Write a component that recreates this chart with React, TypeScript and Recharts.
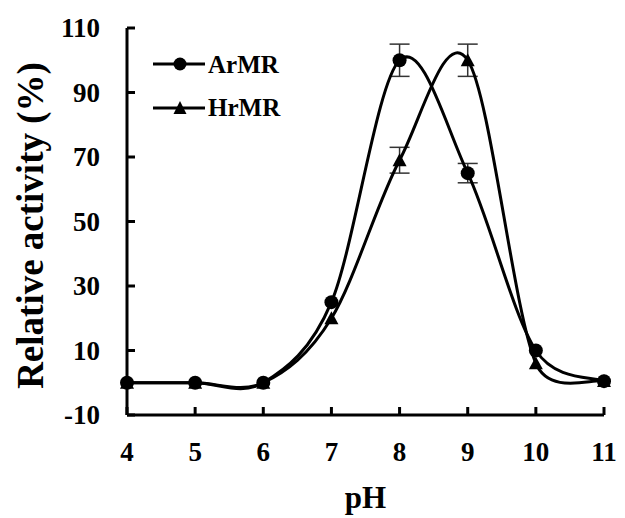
import React from "react";
import { LineChart, Line, XAxis, YAxis, ErrorBar, Legend } from "recharts";

const phValues = [4, 5, 6, 7, 8, 9, 10, 11];
const armrValues = [0, 0, 0, 25, 100, 65, 10, 0.5];
const armrErrors = [0, 0, 0, 0, 5, 3, 0, 0];
const hrmrValues = [0, 0, 0, 20, 69, 100, 6, 0.5];
const hrmrErrors = [0, 0, 0, 0, 4, 5, 0, 0];
const xTicks = [4, 5, 6, 7, 8, 9, 10, 11];
const yTicks = [-10, 10, 30, 50, 70, 90, 110];

const data = phValues.map((ph, i) => ({
  ph,
  armr: armrValues[i],
  armrErr: armrErrors[i],
  hrmr: hrmrValues[i],
  hrmrErr: hrmrErrors[i],
}));

const FONT = "'Liberation Serif', 'Times New Roman', serif";

// Smoothed line similar to Excel (Catmull-Rom with limited tangent length)
function smoothCurve(context: any) {
  let pts: number[][] = [];
  const limit = (dx: number, dy: number, maxLen: number) => {
    const len = Math.hypot(dx, dy);
    if (len > maxLen && len > 0) {
      const k = maxLen / len;
      return [dx * k, dy * k];
    }
    return [dx, dy];
  };
  return {
    areaStart() {},
    areaEnd() {},
    lineStart() {
      pts = [];
    },
    point(x: number, y: number) {
      pts.push([+x, +y]);
    },
    lineEnd() {
      if (!pts.length) return;
      context.moveTo(pts[0][0], pts[0][1]);
      for (let i = 0; i < pts.length - 1; i++) {
        const p0 = pts[i - 1] || pts[i];
        const p1 = pts[i];
        const p2 = pts[i + 1];
        const p3 = pts[i + 2] || p2;
        const seg = Math.hypot(p2[0] - p1[0], p2[1] - p1[1]) * 0.5;
        const d1 = limit((p2[0] - p0[0]) / 6, (p2[1] - p0[1]) / 6, seg);
        const d2 = limit((p3[0] - p1[0]) / 6, (p3[1] - p1[1]) / 6, seg);
        context.bezierCurveTo(p1[0] + d1[0], p1[1] + d1[1], p2[0] - d2[0], p2[1] - d2[1], p2[0], p2[1]);
      }
    },
  };
}

const Y_MARGIN = 27;
const X_MARGIN = 22;

const YTick = (props: any) => {
  const { x, y, payload } = props;
  const ax = x + Y_MARGIN;
  return (
    <g>
      <line x1={ax} x2={ax + 8} y1={y} y2={y} stroke="#000" strokeWidth={3} />
      <text x={x} y={y} dy={9} textAnchor="end" fontFamily={FONT} fontWeight="bold" fontSize={27} fill="#000">
        {payload.value}
      </text>
    </g>
  );
};

const XTick = (props: any) => {
  const { x, y, payload } = props;
  const ay = y - X_MARGIN;
  return (
    <g>
      <line x1={x} x2={x} y1={ay} y2={ay - 8} stroke="#000" strokeWidth={3} />
      <text x={x} y={y} dy={24} textAnchor="middle" fontFamily={FONT} fontWeight="bold" fontSize={27} fill="#000">
        {payload.value}
      </text>
    </g>
  );
};

const CircleDot = (props: any) => {
  const { cx, cy, index } = props;
  if (cx == null || cy == null) return <g key={`c${index}`} />;
  return <circle key={`c${index}`} cx={cx} cy={cy} r={7} fill="#000" />;
};

const TriangleDot = (props: any) => {
  const { cx, cy, index } = props;
  if (cx == null || cy == null) return <g key={`t${index}`} />;
  const s = 7;
  return (
    <polygon
      key={`t${index}`}
      points={`${cx},${cy - s} ${cx - s},${cy + s * 0.85} ${cx + s},${cy + s * 0.85}`}
      fill="#000"
    />
  );
};

const LegendContent = () => (
  <svg width={150} height={100} style={{ display: "block" }}>
    <line x1={3} x2={55} y1={24} y2={24} stroke="#000" strokeWidth={3} />
    <circle cx={30} cy={24} r={6.5} fill="#000" />
    <text x={58} y={33} fontFamily={FONT} fontWeight="bold" fontSize={25} fill="#000">
      ArMR
    </text>
    <line x1={3} x2={55} y1={68} y2={68} stroke="#000" strokeWidth={3} />
    <polygon points="30,61 23.5,74 36.5,74" fill="#000" />
    <text x={58} y={76} fontFamily={FONT} fontWeight="bold" fontSize={25} fill="#000">
      HrMR
    </text>
  </svg>
);

export default function App() {
  return (
    <div style={{ position: "absolute", left: 0, top: 0, background: "#fff" }}>
      <LineChart width={625} height={518} data={data} margin={{ top: 28, right: 21, bottom: 23, left: 0 }}>
        <XAxis
          dataKey="ph"
          type="number"
          domain={[4, 11]}
          ticks={xTicks}
          interval={0}
          axisLine={{ stroke: "#000", strokeWidth: 3 }}
          tickLine={false}
          tickSize={0}
          tickMargin={X_MARGIN}
          tick={<XTick />}
          height={80}
          label={{
            content: (p: any) => {
              const vb = p.viewBox;
              return (
                <text
                  x={vb.x + vb.width / 2}
                  y={vb.y + 82}
                  textAnchor="middle"
                  dominantBaseline="central"
                  fontFamily={FONT}
                  fontWeight="bold"
                  fontSize={31}
                  fill="#000"
                >
                  pH
                </text>
              );
            },
          }}
        />
        <YAxis
          type="number"
          domain={[-10, 110]}
          ticks={yTicks}
          interval={0}
          width={127}
          axisLine={{ stroke: "#000", strokeWidth: 3 }}
          tickLine={false}
          tickSize={0}
          tickMargin={Y_MARGIN}
          tick={<YTick />}
          label={{
            content: (p: any) => {
              const vb = p.viewBox;
              const cx = vb.x + 30;
              const cy = vb.y + vb.height / 2 + 4;
              return (
                <text
                  x={cx}
                  y={cy}
                  transform={`rotate(-90 ${cx} ${cy})`}
                  textAnchor="middle"
                  dominantBaseline="central"
                  fontFamily={FONT}
                  fontWeight="bold"
                  fontSize={37}
                  fill="#000"
                >
                  Relative activity (%)
                </text>
              );
            },
          }}
        />
        <Legend
          layout="horizontal"
          verticalAlign="middle"
          align="center"
          content={<LegendContent />}
          wrapperStyle={{ position: "absolute", left: 150, top: 40, width: 150, height: 100 }}
        />
        <Line
          dataKey="armr"
          type={smoothCurve as any}
          stroke="#000"
          strokeWidth={3}
          dot={CircleDot}
          activeDot={false}
          isAnimationActive={false}
        >
          <ErrorBar dataKey="armrErr" direction="y" width={10} stroke="#333" strokeWidth={1.5} />
        </Line>
        <Line
          dataKey="hrmr"
          type={smoothCurve as any}
          stroke="#000"
          strokeWidth={3}
          dot={TriangleDot}
          activeDot={false}
          isAnimationActive={false}
        >
          <ErrorBar dataKey="hrmrErr" direction="y" width={10} stroke="#333" strokeWidth={1.5} />
        </Line>
      </LineChart>
    </div>
  );
}
